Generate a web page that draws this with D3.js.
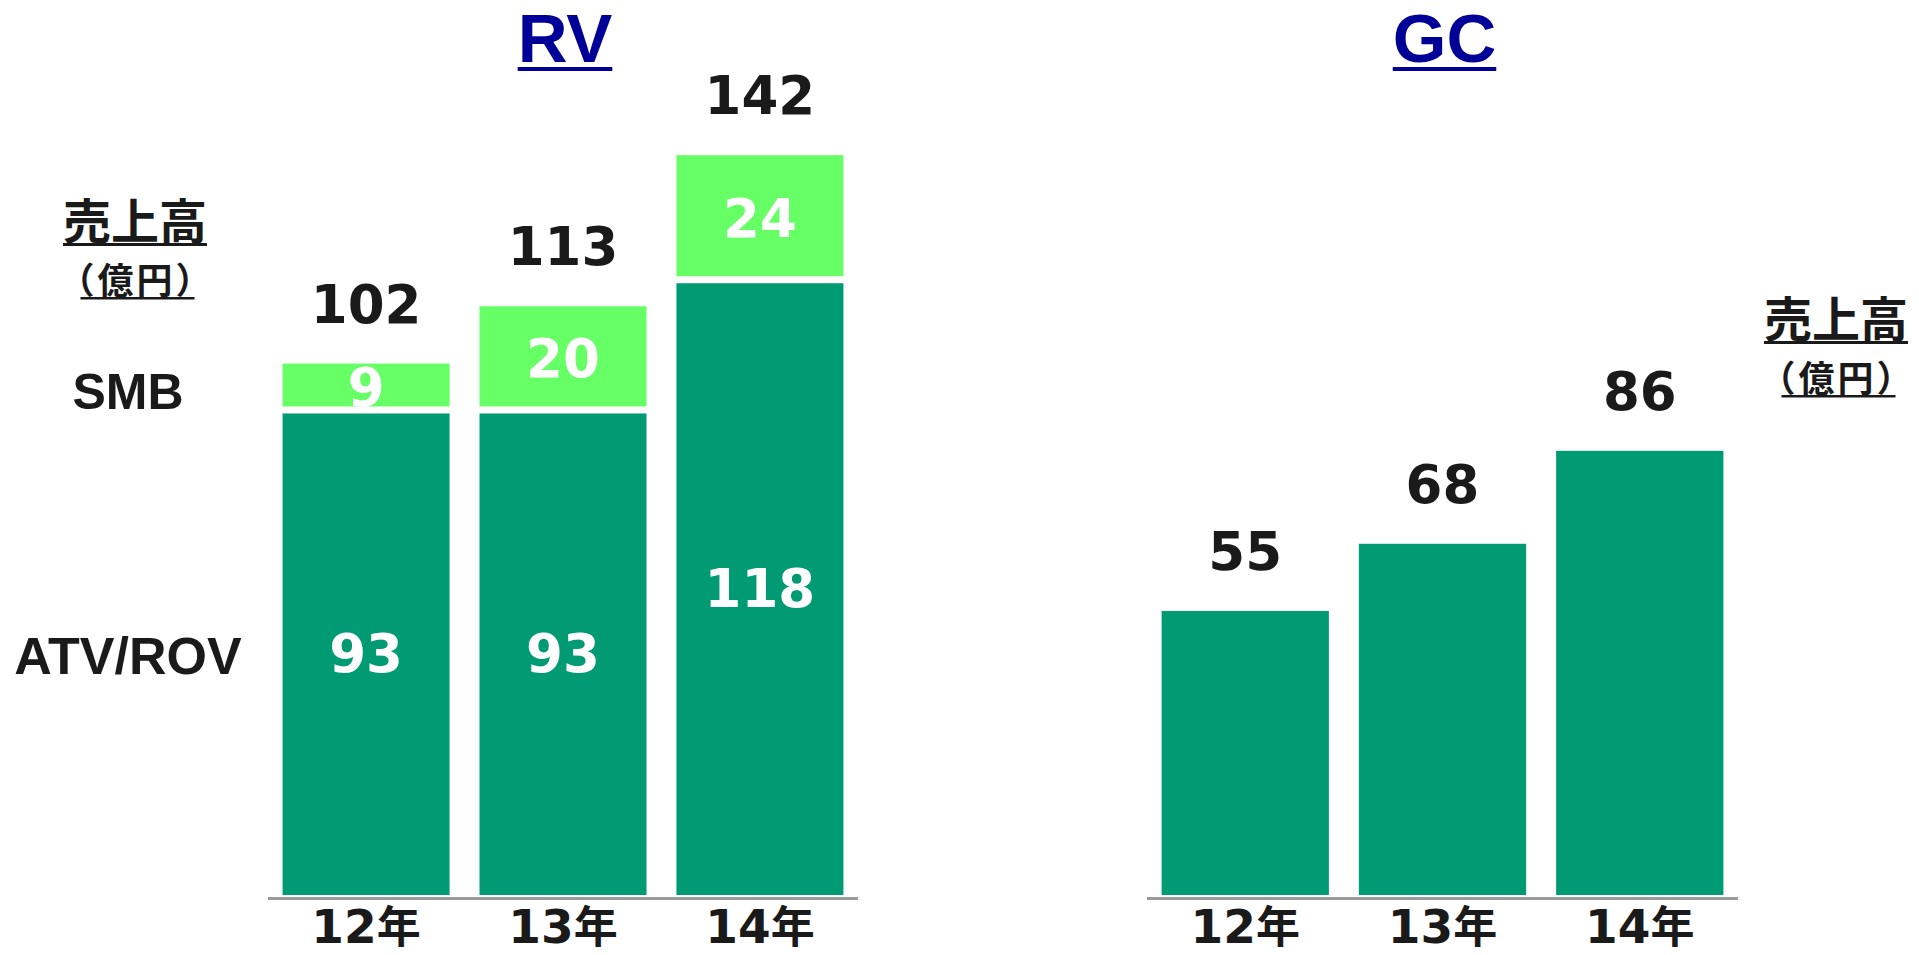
<!DOCTYPE html>
<html>
<head>
<meta charset="utf-8">
<style>
  body { margin: 0; background: #fff; }
  text { font-weight: bold; }
</style>
</head>
<body>
<script src="https://d3js.org/d3.v7.min.js"></script>
<script>
// data
const years = ["12", "13", "14"]
const atvRov = [93, 93, 118]
const smb = [9, 20, 24]
const rvTotal = [102, 113, 142]
const gcSales = [55, 68, 86]
const segmentNames = ["ATV/ROV", "SMB"]
const unitText = ["売上高", "（億円）"]
const titles = ["RV", "GC"]

const w = 1919, h = 955
const dark = "#009b73", light = "#66ff66", ink = "#1a1a1a", blue = "#000099"
const numFont = "'DejaVu Sans', Verdana, sans-serif"
const latinFont = "'Liberation Sans', Arial, sans-serif"
const cjkFont = "'Noto Sans CJK JP', sans-serif"
const baseY = 895

const svg = d3.select("body").append("svg").attr("width", w).attr("height", h)

function xScale(x0, x1) {
    return d3.scaleBand().domain(years).range([x0, x1]).paddingInner(0.152).paddingOuter(0.074)
}

function drawAxis(x) {
    const [a, b] = x.range()
    svg.append("rect").attr("x", a).attr("y", baseY + 2).attr("width", b - a).attr("height", 3).attr("fill", "#9a9a9a")

    const lab = svg.append("g").selectAll("text").data(years).enter().append("text")
        .attr("x", d => x(d) + x.bandwidth() / 2)
        .attr("y", 943)
        .attr("text-anchor", "middle")
        .attr("fill", ink)
    lab.append("tspan").attr("font-family", numFont).attr("font-size", 47).text(d => d)
    lab.append("tspan").attr("font-family", cjkFont).attr("font-size", 44).text("年")
}

function drawTitle(x, label) {
    const [a, b] = x.range()
    const t = svg.append("text")
        .attr("x", (a + b) / 2 + 2).attr("y", 62)
        .attr("text-anchor", "middle")
        .attr("font-family", latinFont).attr("font-size", 69)
        .attr("fill", blue)
        .text(label)
    const bb = t.node().getBBox()
    svg.append("rect").attr("x", bb.x).attr("y", 67).attr("width", bb.width).attr("height", 4).attr("fill", blue)
}

function drawUnit(cx, y0) {
    const t1 = svg.append("text")
        .attr("x", cx).attr("y", y0)
        .attr("text-anchor", "middle")
        .attr("font-family", cjkFont).attr("font-size", 48)
        .attr("fill", ink).text(unitText[0])
    const b1 = t1.node().getBBox()
    svg.append("rect").attr("x", b1.x).attr("y", y0 + 4).attr("width", b1.width).attr("height", 3).attr("fill", ink)

    const t2 = svg.append("text")
        .attr("x", cx + 1.5).attr("y", y0 + 55)
        .attr("text-anchor", "middle")
        .attr("font-family", cjkFont).attr("font-size", 36)
        .attr("letter-spacing", 3)
        .attr("fill", ink).text(unitText[1])
    const b2 = t2.node().getBBox()
    svg.append("rect").attr("x", b2.x + 22).attr("y", y0 + 58).attr("width", b2.width - 42).attr("height", 2.5).attr("fill", ink)
}

// RV panel (stacked)
const xRV = xScale(268, 858)
const yRV = d3.scaleLinear().domain([0, 150]).range([baseY, baseY - 150 * 5.21])

const rows = years.map((yr, i) => ({ year: yr, atv: atvRov[i], smb: smb[i] }))
const series = d3.stack().keys(["atv", "smb"])(rows)

series.forEach((s, k) => {
    const g = svg.append("g")
    g.selectAll("rect").data(s).enter().append("rect")
        .attr("x", d => xRV(d.data.year))
        .attr("width", xRV.bandwidth())
        .attr("y", d => yRV(d[1]) + (k === 0 ? 3 : 0))
        .attr("height", d => yRV(d[0]) - yRV(d[1]) - (k === 0 ? 3 : 4))
        .attr("fill", k === 0 ? dark : light)
    g.selectAll("text").data(s).enter().append("text")
        .attr("x", d => xRV(d.data.year) + xRV.bandwidth() / 2)
        .attr("y", d => (yRV(d[0]) + yRV(d[1])) / 2)
        .attr("dy", "0.36em")
        .attr("text-anchor", "middle")
        .attr("font-family", numFont).attr("font-size", 53)
        .attr("fill", "#fff")
        .text(d => d[1] - d[0])
})

svg.append("g").selectAll("text").data(rvTotal).enter().append("text")
    .attr("x", (d, i) => xRV(years[i]) + xRV.bandwidth() / 2)
    .attr("y", d => yRV(d) - 41)
    .attr("text-anchor", "middle")
    .attr("font-family", numFont).attr("font-size", 53)
    .attr("fill", ink)
    .text(d => d)

svg.append("g").selectAll("text").data(segmentNames).enter().append("text")
    .attr("x", 128)
    .attr("y", (d, i) => i === 0 ? 674 : 409)
    .attr("text-anchor", "middle")
    .attr("font-family", latinFont).attr("font-size", (d, i) => i === 0 ? 52 : 50)
    .attr("fill", ink)
    .text(d => d)

drawAxis(xRV)
drawTitle(xRV, titles[0])
drawUnit(135, 239)

// GC panel
const xGC = xScale(1147, 1738)
const yGC = d3.scaleLinear().domain([0, 150]).range([baseY, baseY - 150 * 5.165])

svg.append("g").selectAll("rect").data(gcSales).enter().append("rect")
    .attr("x", (d, i) => xGC(years[i]))
    .attr("width", xGC.bandwidth())
    .attr("y", d => yGC(d))
    .attr("height", d => yGC(0) - yGC(d))
    .attr("fill", dark)

svg.append("g").selectAll("text").data(gcSales).enter().append("text")
    .attr("x", (d, i) => xGC(years[i]) + xGC.bandwidth() / 2)
    .attr("y", d => yGC(d) - 41)
    .attr("text-anchor", "middle")
    .attr("font-family", numFont).attr("font-size", 53)
    .attr("fill", ink)
    .text(d => d)

drawAxis(xGC)
drawTitle(xGC, titles[1])
drawUnit(1836, 337)
</script>
</body>
</html>
